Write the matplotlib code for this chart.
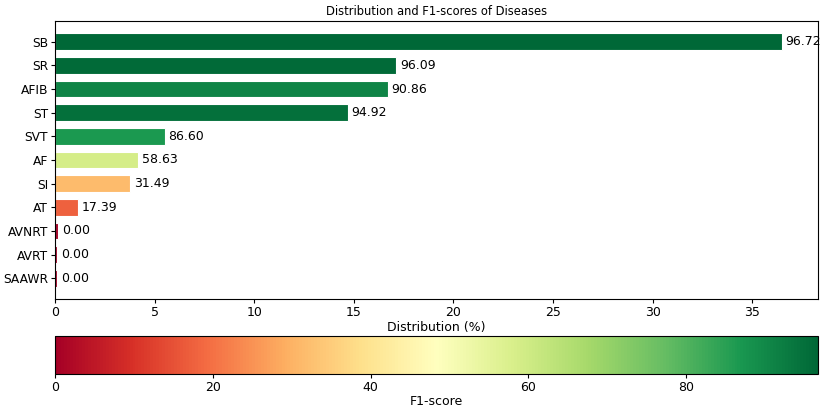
import numpy as np
import matplotlib
matplotlib.use("Agg")
import matplotlib.pyplot as plt
from matplotlib import cm
from matplotlib.colors import Normalize

# Disease classes, share of dataset (%) and F1-score (%)
diseases = ["SB", "SR", "AFIB", "ST", "SVT", "AF", "SI", "AT", "AVNRT", "AVRT", "SAAWR"]
distribution = [36.48, 17.12, 16.70, 14.69, 5.50, 4.18, 3.75, 1.15, 0.17, 0.10, 0.085]
f1_scores = [96.72, 96.09, 90.86, 94.92, 86.60, 58.63, 31.49, 17.39, 0.00, 0.00, 0.00]

plt.rcParams["font.size"] = 9

norm = Normalize(vmin=0, vmax=max(f1_scores))
cmap = plt.get_cmap("RdYlGn")
colors = cmap(norm(np.array(f1_scores)))

fig = plt.figure(figsize=(8.3, 4.15), dpi=100)
ax = fig.add_axes([0.0663, 0.279, 0.9192, 0.671])
cax = fig.add_axes([0.0663, 0.099, 0.9192, 0.091])

y = np.arange(len(diseases))
bars = ax.barh(y, distribution, height=0.7, color=colors, edgecolor="white", linewidth=0.8)
ax.set_yticks(y)
ax.set_yticklabels(diseases, fontsize=8.8)
ax.invert_yaxis()
ax.tick_params(length=3, pad=2)

for bar, score in zip(bars, f1_scores):
    ax.text(bar.get_width() + 0.2, bar.get_y() + bar.get_height() / 2,
            f"{score:.2f}", va="center", ha="left")

ax.set_xlabel("Distribution (%)", labelpad=1)
ax.set_title("Distribution and F1-scores of Diseases", fontsize=8.3, pad=4)

sm = cm.ScalarMappable(norm=norm, cmap=cmap)
cbar = fig.colorbar(sm, cax=cax, orientation="horizontal")
cbar.ax.tick_params(length=3, pad=2)
cbar.set_label("F1-score", labelpad=1)

fig.savefig("out.png", dpi=100)
